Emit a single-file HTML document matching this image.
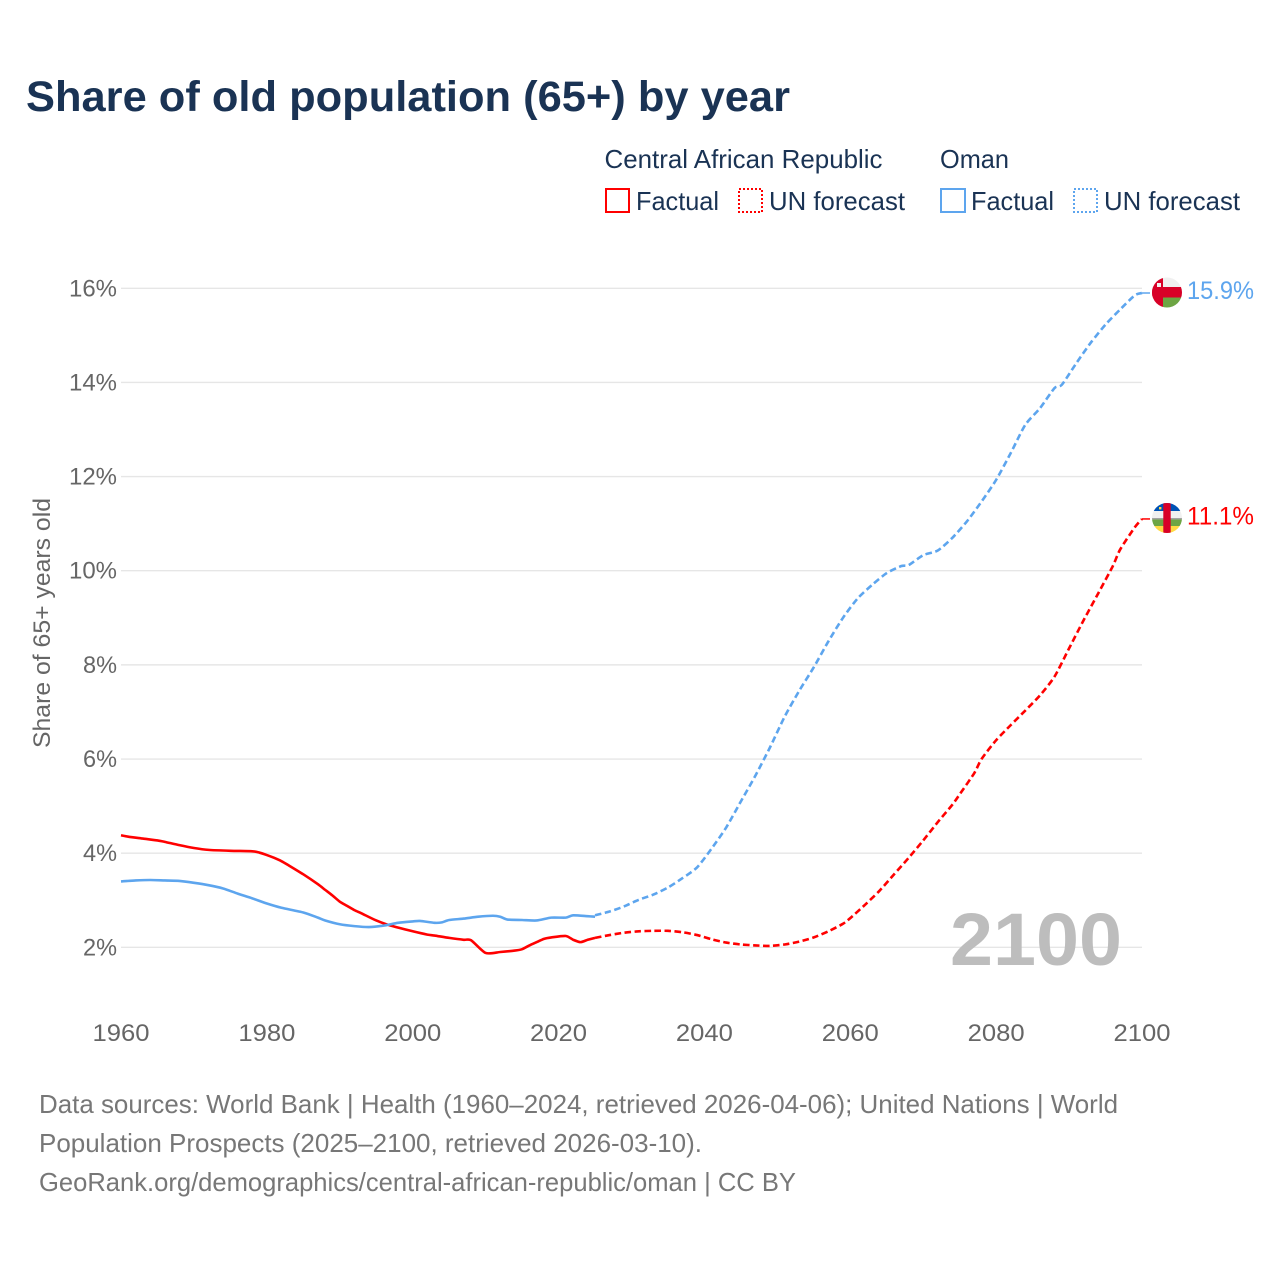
<!DOCTYPE html>
<html lang="en">
<head>
<meta charset="utf-8">
<title>Share of old population (65+) by year</title>
<style>
html,body{margin:0;padding:0;background:#fff;}
svg{display:block;font-family:"Liberation Sans",sans-serif;}
</style>
</head>
<body>
<svg id="chart" width="1280" height="1280" viewBox="0 0 1280 1280" xmlns="http://www.w3.org/2000/svg">
  <defs>
    <clipPath id="flag-clip-oman"><circle cx="1167" cy="292.5" r="15"></circle></clipPath>
    <clipPath id="flag-clip-car"><circle cx="1167" cy="518" r="15"></circle></clipPath>
  </defs>
  <rect width="1280" height="1280" fill="#fff"></rect>

  <text x="26" y="111" font-size="43" font-weight="700" fill="#1a3354" textLength="764" lengthAdjust="spacingAndGlyphs">Share of old population (65+) by year</text>

  <g font-size="26" fill="#1a3354">
    <text x="604.5" y="168" textLength="278" lengthAdjust="spacingAndGlyphs">Central African Republic</text>
    <text x="940" y="168" textLength="69" lengthAdjust="spacingAndGlyphs">Oman</text>
    <rect x="606" y="189" width="23" height="23" fill="none" stroke="#ff0000" stroke-width="2"></rect>
    <text x="636" y="210" textLength="83" lengthAdjust="spacingAndGlyphs">Factual</text>
    <rect x="739" y="189" width="23" height="23" fill="none" stroke="#ff0000" stroke-width="2" stroke-dasharray="2 2"></rect>
    <text x="769" y="210" textLength="136" lengthAdjust="spacingAndGlyphs">UN forecast</text>
    <rect x="941" y="189" width="24" height="23" fill="none" stroke="#5da5ee" stroke-width="2"></rect>
    <text x="971" y="210" textLength="83" lengthAdjust="spacingAndGlyphs">Factual</text>
    <rect x="1074" y="189" width="23" height="23" fill="none" stroke="#5da5ee" stroke-width="2" stroke-dasharray="2 2"></rect>
    <text x="1104" y="210" textLength="136" lengthAdjust="spacingAndGlyphs">UN forecast</text>
  </g>

  <g id="grid"></g>
  <g id="y-axis"></g>
  <g id="x-axis"></g>

  <text transform="translate(50,623) rotate(-90)" text-anchor="middle" font-size="24" fill="#666" textLength="250" lengthAdjust="spacingAndGlyphs">Share of 65+ years old</text>

  <text x="1122" y="965" text-anchor="end" font-size="74" font-weight="700" fill="#bdbdbd" textLength="172" lengthAdjust="spacingAndGlyphs">2100</text>

  <g id="series"></g>

  <g id="flag-oman" clip-path="url(#flag-clip-oman)">
    <rect x="1152" y="277" width="30" height="31" fill="#f0f0f0"></rect>
    <rect x="1152" y="287" width="30" height="10.5" fill="#d80027"></rect>
    <rect x="1152" y="277" width="11" height="31" fill="#d80027"></rect>
    <rect x="1163" y="297.5" width="19" height="11" fill="#6da544"></rect>
    <rect x="1157" y="283" width="4" height="4" fill="#f0f0f0"></rect>
  </g>
  <g id="flag-car" clip-path="url(#flag-clip-car)">
    <rect x="1152" y="503" width="30" height="8" fill="#0052b4"></rect>
    <rect x="1152" y="511" width="30" height="7" fill="#f0f0f0"></rect>
    <rect x="1152" y="518" width="30" height="1.5" fill="#a2a2a2"></rect>
    <rect x="1152" y="519.5" width="30" height="6.5" fill="#6da544"></rect>
    <rect x="1152" y="526" width="30" height="7.5" fill="#ffda44"></rect>
    <rect x="1163.3" y="503" width="7.4" height="31" fill="#d80027"></rect>
    <rect x="1159" y="507" width="2.4" height="2.4" fill="#ffda44"></rect>
  </g>

  <text id="label-oman" x="1187" y="299" font-size="25" fill="#5da5ee" textLength="67" lengthAdjust="spacingAndGlyphs">15.9%</text>
  <text id="label-car" x="1187" y="524.5" font-size="25" fill="#ff0000" textLength="67" lengthAdjust="spacingAndGlyphs">11.1%</text>

  <g font-size="26" fill="#777">
    <text x="39" y="1113" textLength="1079" lengthAdjust="spacingAndGlyphs">Data sources: World Bank | Health (1960–2024, retrieved 2026-04-06); United Nations | World</text>
    <text x="39" y="1152" textLength="663" lengthAdjust="spacingAndGlyphs">Population Prospects (2025–2100, retrieved 2026-03-10).</text>
    <text x="39" y="1191" textLength="757" lengthAdjust="spacingAndGlyphs">GeoRank.org/demographics/central-african-republic/oman | CC BY</text>
  </g>
</svg>
<script>
const yTicks = [2, 4, 6, 8, 10, 12, 14, 16];
const xTicks = [1960, 1980, 2000, 2020, 2040, 2060, 2080, 2100];

const carFactualYears = [1960,1961,1963,1965,1966,1968,1970,1972,1975,1978,1979,1980,1981,1982,1983,1985,1987,1988,1989,1990,1991,1992,1993,1995,1997,2000,2002,2003,2005,2007,2008,2010,2012,2014,2015,2016,2017,2018,2019,2021,2022,2023,2024,2025];
const carFactualValues = [4.38,4.35,4.31,4.27,4.24,4.17,4.11,4.07,4.05,4.04,4.01,3.96,3.90,3.83,3.74,3.55,3.34,3.22,3.10,2.97,2.88,2.79,2.72,2.57,2.46,2.34,2.27,2.25,2.20,2.16,2.15,1.88,1.90,1.93,1.96,2.04,2.11,2.18,2.21,2.24,2.16,2.11,2.16,2.20];
const carForecastYears = [2025,2027,2029,2031,2033,2035,2037,2039,2041,2043,2045,2047,2049,2051,2053,2055,2057,2059,2060,2062,2064,2066,2068,2070,2072,2074,2075,2077,2078,2080,2082,2084,2086,2088,2090,2092,2094,2096,2097,2099,2100];
const carForecastValues = [2.20,2.26,2.31,2.34,2.35,2.35,2.32,2.26,2.17,2.10,2.06,2.04,2.03,2.06,2.12,2.21,2.34,2.50,2.62,2.90,3.20,3.55,3.90,4.27,4.66,5.03,5.25,5.70,6.00,6.40,6.72,7.03,7.35,7.75,8.35,8.95,9.52,10.10,10.45,10.92,11.10];

const omanFactualYears = [1960,1962,1964,1966,1968,1970,1972,1974,1976,1978,1980,1982,1985,1987,1988,1990,1992,1994,1996,1998,2000,2001,2003,2004,2005,2007,2009,2011,2012,2013,2015,2017,2019,2021,2022,2024,2025];
const omanFactualValues = [3.40,3.42,3.43,3.42,3.41,3.37,3.32,3.25,3.14,3.04,2.93,2.84,2.74,2.63,2.57,2.49,2.45,2.43,2.46,2.52,2.55,2.56,2.52,2.53,2.58,2.61,2.65,2.67,2.65,2.59,2.58,2.57,2.63,2.63,2.68,2.66,2.65];
const omanForecastYears = [2025,2027,2029,2031,2033,2035,2037,2039,2041,2043,2045,2047,2049,2051,2053,2055,2057,2059,2061,2063,2065,2067,2068,2070,2072,2074,2076,2078,2080,2082,2084,2086,2088,2089,2091,2093,2095,2097,2099,2100];
const omanForecastValues = [2.68,2.76,2.87,3.01,3.12,3.27,3.47,3.70,4.10,4.55,5.10,5.65,6.25,6.90,7.45,7.95,8.50,9.00,9.41,9.70,9.95,10.10,10.12,10.33,10.43,10.70,11.05,11.47,11.93,12.50,13.10,13.45,13.88,13.95,14.41,14.85,15.23,15.55,15.85,15.90];

const X0 = 121, X1 = 1142, Y2 = 947.3, Y16 = 288.3;
function xScale(year) { return X0 + (year - 1960) * (X1 - X0) / 140; }
function yScale(v) { return Y2 - (v - 2) * (Y2 - Y16) / 14; }

const NS = 'http://www.w3.org/2000/svg';
const grid = document.getElementById('grid');
const yAxis = document.getElementById('y-axis');
const xAxis = document.getElementById('x-axis');
const seriesGroup = document.getElementById('series');

yTicks.forEach(function (t) {
  const line = document.createElementNS(NS, 'line');
  
  
  line.setAttribute('x1', X0);
  line.setAttribute('x2', X1);
  line.setAttribute('y1', yScale(t));
  line.setAttribute('y2', yScale(t));
  line.setAttribute('stroke', '#e6e6e6');
  line.setAttribute('stroke-width', '1.4');
  grid.appendChild(line);
  const label = document.createElementNS(NS, 'text');
  
  
  label.setAttribute('x', 117);
  label.setAttribute('y', yScale(t) + 8);
  label.setAttribute('text-anchor', 'end');
  label.setAttribute('font-size', '24');
  label.setAttribute('fill', '#666');
  label.setAttribute('textLength', t >= 10 ? 48 : 34);
  label.setAttribute('lengthAdjust', 'spacingAndGlyphs');
  label.textContent = t + '%';
  yAxis.appendChild(label);
});

xTicks.forEach(function (t) {
  const label = document.createElementNS(NS, 'text');
  
  
  label.setAttribute('x', xScale(t));
  label.setAttribute('y', 1041);
  label.setAttribute('text-anchor', 'middle');
  label.setAttribute('font-size', '24');
  label.setAttribute('fill', '#666');
  label.setAttribute('textLength', 57);
  label.setAttribute('lengthAdjust', 'spacingAndGlyphs');
  label.textContent = t;
  xAxis.appendChild(label);
});

function pathFrom(years, values) {
  const pts = years.map(function (y, i) { return [xScale(y), yScale(values[i])]; });
  let d = 'M' + pts[0][0].toFixed(2) + ' ' + pts[0][1].toFixed(2);
  for (let i = 0; i < pts.length - 1; i++) {
    const a = pts[Math.max(i - 1, 0)], b = pts[i], c = pts[i + 1], e = pts[Math.min(i + 2, pts.length - 1)];
    const k = 0.12;
    d += ' C' + (b[0] + (c[0] - a[0]) * k).toFixed(2) + ' ' + (b[1] + (c[1] - a[1]) * k).toFixed(2) +
         ' ' + (c[0] - (e[0] - b[0]) * k).toFixed(2) + ' ' + (c[1] - (e[1] - b[1]) * k).toFixed(2) +
         ' ' + c[0].toFixed(2) + ' ' + c[1].toFixed(2);
  }
  return d;
}

function addLine(name, years, values, color, dashed) {
  const p = document.createElementNS(NS, 'path');
  
  
  p.setAttribute('d', pathFrom(years, values));
  p.setAttribute('fill', 'none');
  p.setAttribute('stroke', color);
  p.setAttribute('stroke-width', '2.6');
  p.setAttribute('stroke-linejoin', 'round');
  if (dashed) p.setAttribute('stroke-dasharray', '6.5 3.5');
  seriesGroup.appendChild(p);
}

function addConnector(name, value, color) {
  const c = document.createElementNS(NS, 'line');
  
  
  c.setAttribute('x1', X1);
  c.setAttribute('x2', 1150);
  c.setAttribute('y1', yScale(value));
  c.setAttribute('y2', yScale(value));
  c.setAttribute('stroke', color);
  c.setAttribute('stroke-width', '1.5');
  seriesGroup.appendChild(c);
}

addLine('line-car-factual', carFactualYears, carFactualValues, '#ff0000', false);
addLine('line-car-forecast', carForecastYears, carForecastValues, '#ff0000', true);
addLine('line-oman-factual', omanFactualYears, omanFactualValues, '#5da5ee', false);
addLine('line-oman-forecast', omanForecastYears, omanForecastValues, '#5da5ee', true);
addConnector('connector-car', carForecastValues[carForecastValues.length - 1], '#ff0000');
addConnector('connector-oman', omanForecastValues[omanForecastValues.length - 1], '#5da5ee');
</script>
</body>
</html>
